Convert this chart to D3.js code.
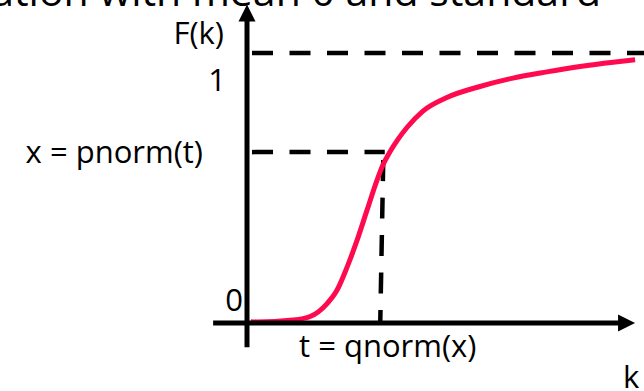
<!DOCTYPE html>
<html>
<head>
<meta charset="utf-8">
<script src="https://cdn.jsdelivr.net/npm/d3@7"></script>
<style>
	html, body { margin: 0; padding: 0; background: #fff; overflow: hidden; }
	text { font-family: "Open Sans", sans-serif; fill: #000; }
</style>
</head>
<body>
<div id="plot"></div>
<script>
// Curve: k on the horizontal axis, F(k) on the vertical one
const kValues = [1, 2.6, 11.9, 16.4, 20.8, 23.4, 26.0, 28.6, 31.2, 33.8, 35.3, 37.1, 39.2, 41.6, 45.7, 51.9, 60.5, 69.1, 77.9, 86.5, 95.1, 100.8];
const fValues = [0.005, 0.004, 0.011, 0.024, 0.072, 0.122, 0.207, 0.307, 0.419, 0.530, 0.585, 0.633, 0.680, 0.725, 0.785, 0.835, 0.876, 0.907, 0.930, 0.950, 0.966, 0.975];

// The marked point t = qnorm(x), x = pnorm(t) and the upper limit of F
const tValue = 35.0;
const xValue = 0.633;
const upperLimit = 1;

// Axis extents in data units
const kExtent = [-8.8, 100.8];
const fExtent = [-0.09, 1.18];

// Texts
const headerText = "ation with mean 0 and standard";
const yLabel = "F(k)";
const xLabel = "k";
const tLabel = "t = qnorm(x)";
const xValueLabel = "x = pnorm(t)";
const tickLabels = ["0", "1"];

const width = 644, height = 391;
const svg = d3.select("#plot")
	.append("svg")
		.attr("width", width).attr("height", height);

const xAxis = d3.scaleLinear().domain([0, 100]).range([247, 632]);
const yAxis = d3.scaleLinear().domain([0, 1]).range([323, 53]);

// Header line cut off by the top of the picture
svg.append("text")
	.attr("x", 601).attr("y", 6)
	.style("text-anchor", "end")
	.style("font-size", "41px")
	.text(headerText);

// Dashed guide lines
const dash = g => g.attr("fill", "none").attr("stroke", "#000").attr("stroke-width", 4.5).attr("stroke-dasharray", "21,16.5");
svg.append("line")
	.attr("x1", xAxis(0) + 5).attr("x2", 644)
	.attr("y1", yAxis(upperLimit)).attr("y2", yAxis(upperLimit))
	.call(dash);
svg.append("line")
	.attr("x1", xAxis(0) + 5).attr("x2", xAxis(tValue) + 3)
	.attr("y1", yAxis(xValue)).attr("y2", yAxis(xValue))
	.call(dash);
svg.append("line")
	.attr("x1", xAxis(tValue) + 1.5).attr("x2", xAxis(tValue) - 1.5)
	.attr("y1", yAxis(xValue) + 8).attr("y2", yAxis(0))
	.call(dash);

// The curve
const line = d3.line()
	.x(d => xAxis(d.k))
	.y(d => yAxis(d.f))
	.curve(d3.curveMonotoneX);
svg.append("path")
	.datum(kValues.map((k, i) => { return { k: k, f: fValues[i] }; }))
	.attr("fill", "none")
	.attr("stroke", "#ff0a4e")
	.attr("stroke-width", 5)
	.attr("stroke-linecap", "butt")
	.attr("d", line);

// Axes with arrow heads
svg.append("line")
	.attr("x1", xAxis(kExtent[0])).attr("x2", xAxis(kExtent[1]) - 16)
	.attr("y1", yAxis(0)).attr("y2", yAxis(0))
	.attr("stroke", "#000").attr("stroke-width", 5);
svg.append("path")
	.attr("d", `M${xAxis(kExtent[1]) - 17},${yAxis(0) - 8.5}L${xAxis(kExtent[1])},${yAxis(0)}L${xAxis(kExtent[1]) - 17},${yAxis(0) + 8.5}Z`)
	.attr("fill", "#000");
svg.append("line")
	.attr("x1", xAxis(0)).attr("x2", xAxis(0))
	.attr("y1", yAxis(fExtent[0])).attr("y2", yAxis(fExtent[1]) + 16)
	.attr("stroke", "#000").attr("stroke-width", 5);
svg.append("path")
	.attr("d", `M${xAxis(0) - 8.5},${yAxis(fExtent[1]) + 17}L${xAxis(0)},${yAxis(fExtent[1])}L${xAxis(0) + 8.5},${yAxis(fExtent[1]) + 17}Z`)
	.attr("fill", "#000");

// Labels
const label = (x, y, anchor, txt) => svg.append("text")
	.attr("x", x).attr("y", y)
	.style("text-anchor", anchor)
	.style("font-size", "31px")
	.text(txt);
label(xAxis(0) - 23, 44, "end", yLabel);
label(xAxis(0) - 21, yAxis(upperLimit) + 38, "end", tickLabels[1]);
label(xAxis(0) - 4, yAxis(0) - 12, "end", tickLabels[0]);
label(203, yAxis(xValue) + 11, "end", xValueLabel);
label(xAxis(tValue) + 6, yAxis(0) + 34, "middle", tLabel);
label(623, 388, "start", xLabel);
</script>
</body>
</html>
